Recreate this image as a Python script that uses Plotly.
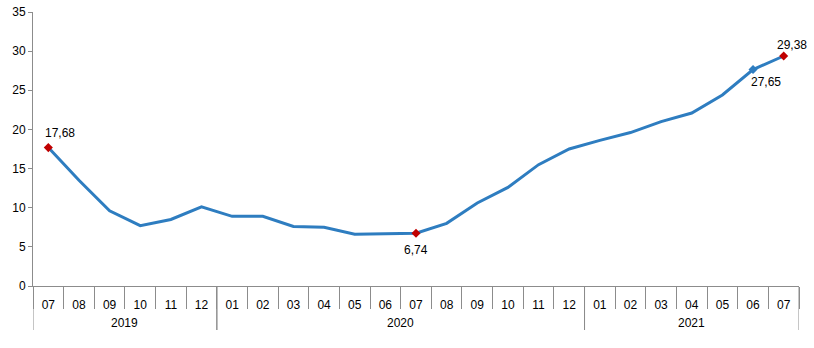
import plotly.graph_objects as go

# Monthly series, July 2019 - July 2021
years = ["2019"] * 6 + ["2020"] * 12 + ["2021"] * 7
months = ["07", "08", "09", "10", "11", "12",
          "01", "02", "03", "04", "05", "06", "07", "08", "09", "10", "11", "12",
          "01", "02", "03", "04", "05", "06", "07"]
values = [17.68, 13.5, 9.6, 7.7, 8.5, 10.1,
          8.9, 8.9, 7.6, 7.5, 6.6, 6.7, 6.74, 8.0, 10.6, 12.6, 15.5, 17.5,
          18.6, 19.6, 21.0, 22.1, 24.4, 27.65, 29.38]

# Highlighted points: index, marker colour, label offset (x, y in px)
highlights = [(0, "#C00000", 12, -15), (12, "#C00000", 0, 17),
              (23, "#2E7DC0", 13, 12), (24, "#C00000", 8, -11)]

LINE = "#2E7DC0"
AXIS = "#8C8C8C"
FONT = "Liberation Sans, Arial, sans-serif"

n = len(values)
xs = list(range(n))

fig = go.Figure()
fig.add_trace(go.Scatter(x=xs, y=values, mode="lines",
                         line=dict(color=LINE, width=3), hoverinfo="skip"))
fig.add_trace(go.Scatter(
    x=[h[0] for h in highlights], y=[values[h[0]] for h in highlights],
    mode="markers",
    marker=dict(symbol="diamond", size=7, color=[h[1] for h in highlights]),
    hoverinfo="skip"))

annotations = []
for i, c, dx, dy in highlights:
    annotations.append(dict(x=i, y=values[i], xref="x", yref="y",
                            text=f"{values[i]:.2f}".replace(".", ","),
                            showarrow=False, xshift=dx, yshift=-dy,
                            font=dict(family=FONT, size=12, color="#000")))

# Year group labels and dividers
plot_h = 348 - 12 - 62
year_div_y = -44 / plot_h
groups = []
start = 0
for i in range(1, n + 1):
    if i == n or years[i] != years[start]:
        groups.append((years[start], start, i - 1))
        start = i
shapes = []
for name, a, b in groups:
    annotations.append(dict(x=(a + b) / 2, y=-37 / plot_h, xref="x", yref="paper",
                            text=name, showarrow=False, yanchor="middle",
                            font=dict(family=FONT, size=12, color="#000")))
    for edge in (a - 0.5, b + 0.5):
        shapes.append(dict(type="line", xref="x", yref="paper",
                           x0=edge, x1=edge, y0=0, y1=year_div_y,
                           line=dict(color=AXIS, width=1)))

fig.update_layout(
    width=814, height=348,
    margin=dict(l=33, r=15, t=12, b=62, autoexpand=False),
    paper_bgcolor="white", plot_bgcolor="white",
    showlegend=False,
    annotations=annotations, shapes=shapes,
    font=dict(family=FONT, size=12, color="#000"),
    xaxis=dict(range=[-0.5, n - 0.5], tickmode="array", tickvals=xs,
               ticktext=months, ticks="", showgrid=False, zeroline=False,
               showline=True, linecolor=AXIS, linewidth=1,
               ticklabelstandoff=8, automargin=False,
               tickfont=dict(family=FONT, size=12, color="#000"),
               minor=dict(tickmode="array",
                          tickvals=[i - 0.5 for i in range(n + 1)],
                          ticks="outside", ticklen=22, tickcolor=AXIS,
                          tickwidth=1, showgrid=False)),
    yaxis=dict(range=[0, 35], dtick=5, tick0=0, showgrid=False, zeroline=False,
               showline=True, linecolor=AXIS, linewidth=1, automargin=False,
               ticks="outside", ticklen=4, tickcolor=AXIS,
               tickfont=dict(family=FONT, size=12, color="#000")),
)

fig.write_html("out.html")
